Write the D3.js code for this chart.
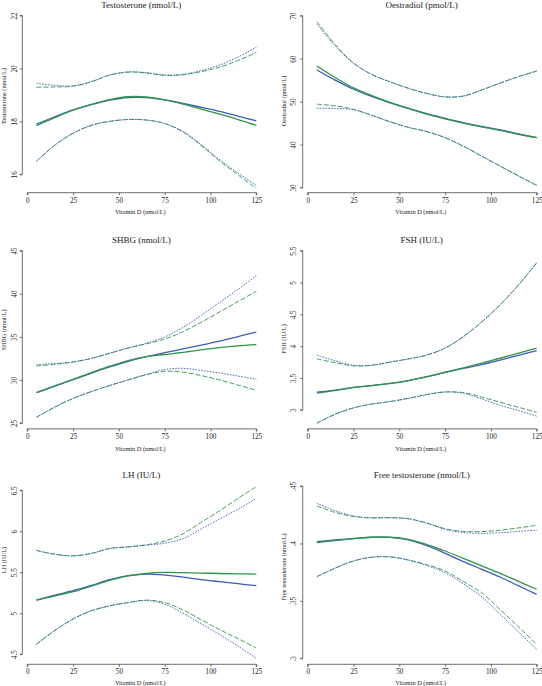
<!DOCTYPE html>
<html><head><meta charset="utf-8">
<script src="https://cdn.jsdelivr.net/npm/d3@7"></script>
<style>body{margin:0;background:#fff}svg{display:block}</style>
</head><body>
<script>
// ---------- data ----------
const vitD = [5,15,25,35,45,55,65,75,85,95,105,115,125];
const xTicks = [0,25,50,75,100,125];

// Testosterone
const testoBlue   = [17.90,18.17,18.43,18.63,18.80,18.90,18.90,18.81,18.68,18.53,18.38,18.20,18.02];
const testoGreen  = [17.84,18.14,18.42,18.64,18.82,18.93,18.92,18.81,18.65,18.46,18.27,18.07,17.85];
const testoBlueUp = [19.44,19.36,19.34,19.50,19.75,19.87,19.84,19.75,19.78,19.92,20.13,20.43,20.80];
const testoGreenUp= [19.29,19.30,19.33,19.50,19.75,19.86,19.83,19.74,19.76,19.88,20.05,20.30,20.60];
const testoBlueLo = [16.49,17.10,17.55,17.85,18.00,18.07,18.05,17.92,17.62,17.12,16.55,16.05,15.58];
const testoGreenLo= [16.49,17.10,17.55,17.85,18.00,18.07,18.05,17.92,17.60,17.08,16.50,15.98,15.47];
const testoTicks = [16,18,20,22];

// Oestradiol
const oesBlue   = [57.36,55.0,52.87,51.2,49.7,48.4,47.2,46.12,45.1,44.2,43.4,42.5,41.63];
const oesGreen  = [58.3,55.6,53.2,51.4,49.8,48.4,47.1,46.0,45.0,44.1,43.3,42.4,41.6];
const oesBlueUp = [68.06,63.0,58.9,56.3,54.6,53.1,51.9,51.1,51.3,52.7,54.3,55.8,57.13];
const oesGreenUp= [68.6,63.3,59.0,56.3,54.6,53.1,51.9,51.1,51.3,52.7,54.3,55.8,57.13];
const oesBlueLo = [48.45,48.4,48.1,46.8,45.3,44.0,43.0,41.6,39.6,37.3,35.0,32.7,30.5];
const oesGreenLo= [49.4,49.0,48.2,46.8,45.3,44.0,43.0,41.6,39.6,37.3,35.0,32.7,30.5];
const oesTicks = [30,40,50,60,70];

// SHBG
const shbgBlue   = [28.52,29.28,30.03,30.78,31.5,32.15,32.7,33.16,33.6,34.05,34.5,35.03,35.56];
const shbgGreen  = [28.52,29.3,30.08,30.85,31.6,32.25,32.7,32.95,33.2,33.5,33.75,33.95,34.1];
const shbgBlueUp = [31.77,31.9,32.08,32.5,33.1,33.7,34.25,34.98,36.1,37.5,39.0,40.5,42.1];
const shbgGreenUp= [31.62,31.82,32.08,32.5,33.1,33.7,34.2,34.75,35.6,36.7,37.9,39.1,40.28];
const shbgBlueLo = [25.66,26.85,27.85,28.65,29.35,30.0,30.65,31.2,31.35,31.1,30.8,30.45,30.1];
const shbgGreenLo= [25.66,26.85,27.85,28.65,29.35,30.0,30.6,31.0,30.9,30.5,30.0,29.4,28.8];
const shbgTicks = [25,30,35,40,45];

// FSH
const fshBlue   = [3.278,3.31,3.351,3.38,3.415,3.46,3.52,3.587,3.65,3.71,3.78,3.855,3.928];
const fshGreen  = [3.262,3.305,3.35,3.38,3.415,3.46,3.52,3.59,3.66,3.735,3.81,3.89,3.97];
const fshBlueUp = [3.86,3.77,3.70,3.70,3.75,3.80,3.86,3.97,4.15,4.38,4.65,4.96,5.31];
const fshGreenUp= [3.80,3.74,3.69,3.70,3.75,3.80,3.86,3.97,4.15,4.38,4.65,4.96,5.31];
const fshBlueLo = [2.79,2.93,3.03,3.09,3.13,3.18,3.24,3.28,3.26,3.17,3.07,2.99,2.90];
const fshGreenLo= [2.79,2.93,3.03,3.09,3.13,3.18,3.24,3.28,3.27,3.20,3.12,3.04,2.96];
const fshTicks = [3,3.5,4,4.5,5,5.5];
const fshLabels = ["3","3.5","4","4.5","5","5.5"];

// LH
const lhBlue   = [5.161,5.22,5.275,5.34,5.41,5.46,5.478,5.466,5.44,5.41,5.385,5.36,5.336];
const lhGreen  = [5.161,5.21,5.263,5.33,5.40,5.455,5.485,5.498,5.495,5.49,5.485,5.48,5.478];
const lhBlueUp = [5.766,5.72,5.70,5.73,5.79,5.81,5.83,5.855,5.91,6.03,6.15,6.27,6.40];
const lhGreenUp= [5.766,5.72,5.70,5.73,5.79,5.81,5.835,5.88,5.97,6.11,6.25,6.40,6.545];
const lhBlueLo = [4.62,4.79,4.93,5.03,5.09,5.13,5.155,5.11,5.0,4.87,4.74,4.60,4.45];
const lhGreenLo= [4.62,4.79,4.93,5.03,5.09,5.13,5.16,5.13,5.04,4.92,4.80,4.69,4.577];
const lhTicks = [4.5,5,5.5,6,6.5];
const lhLabels = ["4.5","5","5.5","6","6.5"];

// Free testosterone
const ftBlue   = [.4015,.403,.4042,.4054,.4052,.403,.398,.3914,.3842,.3775,.3708,.3632,.3557];
const ftGreen  = [.4007,.4025,.4042,.4054,.4054,.4035,.399,.3934,.387,.3805,.374,.367,.3601];
const ftBlueUp = [.4349,.4285,.4239,.4222,.4224,.4215,.4175,.4123,.4095,.4088,.4093,.4105,.4117];
const ftGreenUp= [.4326,.427,.4235,.4222,.4224,.4215,.4178,.4128,.4105,.4103,.4115,.4135,.4158];
const ftBlueLo = [.3711,.3785,.3847,.388,.3883,.3855,.3808,.3746,.3648,.3535,.3384,.3232,.3078];
const ftGreenLo= [.3711,.3785,.3847,.388,.3883,.3855,.3815,.376,.3668,.357,.3425,.3275,.3122];
const ftTicks = [.3,.35,.4,.45];
const ftLabels = [".3",".35",".4",".45"];

const titles = ["Testosterone (nmol/L)","Oestradiol (pmol/L)","SHBG (nmol/L)","FSH (IU/L)","LH (IU/L)","Free testosterone (nmol/L)"];
const xLabel = "Vitamin D (nmol/L)";

// ---------- layout ----------
const W = 542, H = 686;
const BLUE = "#3d5cc0", GREEN = "#2e9646";
const svg = d3.select("body").append("svg").attr("width", W).attr("height", H);

const panels = [
  {title: titles[0], ylab: "Testosterone (nmol/L)", series:[testoBlue,testoGreen,testoBlueUp,testoGreenUp,testoBlueLo,testoGreenLo],
   ticks: testoTicks, labels: testoTicks.map(String), x0: 27.3, x1: 256.3, yAxisX: 22.3, xAxisY: 192.7, yPx:[174.3,15.5], titleY: 5, xlabY: 211, ylabX: 3.5, ylabY: 96, tlX: 15},
  {title: titles[1], ylab: "Oestradiol (pmol/L)", series:[oesBlue,oesGreen,oesBlueUp,oesGreenUp,oesBlueLo,oesGreenLo],
   ticks: oesTicks, labels: oesTicks.map(String), x0: 307.7, x1: 536.7, yAxisX: 302.7, xAxisY: 192.7, yPx:[187.5,15.7], titleY: 5, xlabY: 211, ylabX: 283, ylabY: 101, tlX: 294},
  {title: titles[2], ylab: "SHBG (nmol/L)", series:[shbgBlue,shbgGreen,shbgBlueUp,shbgGreenUp,shbgBlueLo,shbgGreenLo],
   ticks: shbgTicks, labels: shbgTicks.map(String), x0: 27.3, x1: 256.3, yAxisX: 22.3, xAxisY: 428.9, yPx:[423,250.7], titleY: 240, xlabY: 448, ylabX: 3.5, ylabY: 330, tlX: 15},
  {title: titles[3], ylab: "FSH (IU/L)", series:[fshBlue,fshGreen,fshBlueUp,fshGreenUp,fshBlueLo,fshGreenLo],
   ticks: fshTicks, labels: fshLabels, x0: 307.7, x1: 536.7, yAxisX: 302.7, xAxisY: 428.9, yPx:[409.8,250.7], titleY: 240, xlabY: 448, ylabX: 283, ylabY: 339, tlX: 294},
  {title: titles[4], ylab: "LH (IU/L)", series:[lhBlue,lhGreen,lhBlueUp,lhGreenUp,lhBlueLo,lhGreenLo],
   ticks: lhTicks, labels: lhLabels, x0: 27.3, x1: 256.3, yAxisX: 22.3, xAxisY: 664.3, yPx:[654.2,490.3], titleY: 475, xlabY: 682.5, ylabX: 3.5, ylabY: 560, tlX: 15},
  {title: titles[5], ylab: "Free testosterone (nmol/L)", series:[ftBlue,ftGreen,ftBlueUp,ftGreenUp,ftBlueLo,ftGreenLo],
   ticks: ftTicks, labels: ftLabels, x0: 307.7, x1: 536.7, yAxisX: 302.7, xAxisY: 664.3, yPx:[658.3,486], titleY: 475, xlabY: 682.5, ylabX: 283, ylabY: 567, tlX: 294}
];

const FONT = "'Liberation Serif','Times New Roman',Times,serif";
const AX = "#4a4a4a";

panels.forEach(p => {
  const g = svg.append("g");
  const x = d3.scaleLinear().domain([0,125]).range([p.x0, p.x1]);
  const y = d3.scaleLinear().domain([p.ticks[0], p.ticks[p.ticks.length-1]]).range(p.yPx);

  // x axis
  const xa = g.append("g").attr("transform", `translate(0,${p.xAxisY})`)
    .call(d3.axisBottom(x).tickValues(xTicks).tickSize(2.5).tickPadding(2.5).tickFormat(d3.format("d")));
  xa.select(".domain").attr("stroke", AX).attr("stroke-width", 0.8).attr("d", `M${p.x0},2.5V0H${p.x1}V2.5`);
  xa.selectAll(".tick line").attr("stroke", AX).attr("stroke-width", 0.8);
  xa.selectAll(".tick text").attr("font-family", FONT).attr("font-size", 7.2).attr("fill", "#222");

  // y axis
  const ya = g.append("g").attr("transform", `translate(${p.yAxisX},0)`)
    .call(d3.axisLeft(y).tickValues(p.ticks).tickSize(2.5).tickFormat((d,i) => p.labels[i]));
  ya.select(".domain").attr("stroke", AX).attr("stroke-width", 0.8)
    .attr("d", `M-2.5,${p.yPx[1]}H0V${p.yPx[0]}H-2.5`);
  ya.selectAll(".tick line").attr("stroke", AX).attr("stroke-width", 0.8);
  ya.selectAll(".tick text").attr("font-family", FONT).attr("font-size", 7.2).attr("fill", "#222")
    .attr("x", null).attr("dy", null)
    .attr("text-anchor", "middle").attr("dominant-baseline", "central")
    .attr("transform", `translate(${p.tlX - p.yAxisX},0) rotate(-90)`);

  // lines
  const line = d3.line().x((d,i) => x(vitD[i])).y(d => y(d)).curve(d3.curveCatmullRom.alpha(0.5));
  const styles = [
    {c: BLUE, w: 1.3, dash: null},
    {c: GREEN, w: 1.3, dash: null},
    {c: BLUE, w: 0.9, dash: "1.6,1.3"},
    {c: GREEN, w: 0.9, dash: "5,2"},
    {c: BLUE, w: 0.9, dash: "1.6,1.3"},
    {c: GREEN, w: 0.9, dash: "5,2"}
  ];
  [3,5,2,4,0,1].forEach(k => {
    const s = styles[k];
    g.append("path").attr("d", line(p.series[k])).attr("fill", "none")
      .attr("stroke", s.c).attr("stroke-width", s.w)
      .attr("stroke-dasharray", s.dash);
  });

  // texts
  g.append("text").attr("x", (p.x0 + p.x1)/2 - 0.5).attr("y", p.titleY).attr("text-anchor", "middle")
    .attr("dominant-baseline", "central").attr("font-family", FONT).attr("font-size", 9).attr("fill", "#222").text(p.title);
  g.append("text").attr("x", (p.x0 + p.x1)/2 - 1.5).attr("y", p.xlabY).attr("text-anchor", "middle")
    .attr("dominant-baseline", "central").attr("font-family", FONT).attr("font-size", 6.3).attr("fill", "#222").text(xLabel);
  g.append("text").attr("transform", `translate(${p.ylabX},${p.ylabY}) rotate(-90)`).attr("text-anchor", "middle")
    .attr("dominant-baseline", "central").attr("font-family", FONT).attr("font-size", 6.3).attr("fill", "#222").text(p.ylab);
});
</script>
</body></html>
